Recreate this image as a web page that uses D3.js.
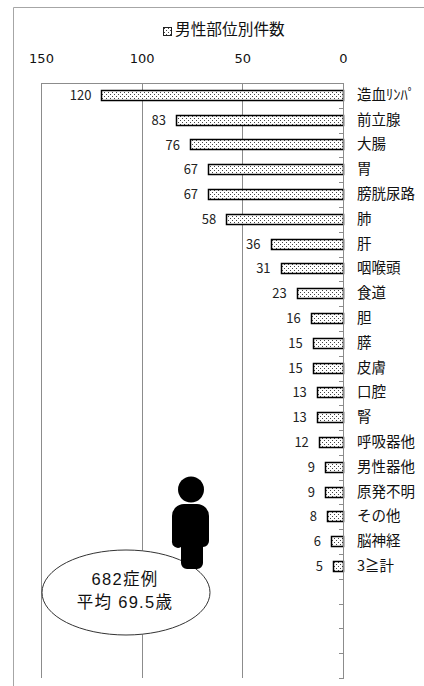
<!DOCTYPE html>
<html><head><meta charset="utf-8">
<script src="https://cdn.jsdelivr.net/npm/d3@7/dist/d3.min.js"></script>
<style>
html,body{margin:0;padding:0;background:#fff;overflow:hidden}
text{font-family:"Noto Sans CJK JP","Noto Sans",sans-serif}
</style></head><body><div id="c"></div>
<script>
const categories=["造血ﾘﾝﾊﾟ","前立腺","大腸","胃","膀胱尿路","肺","肝","咽喉頭","食道","胆","膵","皮膚","口腔","腎","呼吸器他","男性器他","原発不明","その他","脳神経","3≧計"];
const values=[120,83,76,67,67,58,36,31,23,16,15,15,13,13,12,9,9,8,6,5];
const blankSlots=["b1","b2","b3","b4"];
const xTicks=[150,100,50,0];
const titleText="男性部位別件数";
const noteLines=["682症例","平均 69.5歳"];

const svg=d3.select("#c").append("svg").attr("width",424).attr("height",686).style("display","block");
const defs=svg.append("defs");
const p=defs.append("pattern").attr("id","dots").attr("width",4).attr("height",4).attr("patternUnits","userSpaceOnUse");
p.append("rect").attr("width",4).attr("height",4).attr("fill","#fff");
p.append("rect").attr("x",0).attr("y",0).attr("width",1).attr("height",1).attr("fill","#444");
p.append("rect").attr("x",2).attr("y",2).attr("width",1).attr("height",1).attr("fill","#444");

// chart frame
svg.append("path").attr("d","M424.5 7.5H13.5V686").attr("fill","none").attr("stroke","#a6a6a6").attr("stroke-width",1);

const plotTop=83,plotBottom=678;
const x=d3.scaleLinear().domain([150,0]).range([41,343]);
const y=d3.scaleBand().domain(categories.concat(blankSlots)).range([plotTop,plotBottom]);

// gridlines
svg.append("g").selectAll("line").data(xTicks.slice(0,3)).join("line")
 .attr("x1",d=>Math.round(x(d))+.5).attr("x2",d=>Math.round(x(d))+.5).attr("y1",plotTop).attr("y2",plotBottom)
 .attr("stroke","#8c8c8c");
svg.append("line").attr("x1",41).attr("x2",344).attr("y1",plotTop+.5).attr("y2",plotTop+.5).attr("stroke","#8c8c8c");

// top axis labels
const ax=d3.axisTop(x).tickValues(xTicks).tickSize(0).tickPadding(0);
const gx=svg.append("g").attr("transform","translate(0,63)").call(ax);
gx.select(".domain").remove();
gx.selectAll("text").style("font-family","'DejaVu Sans'").attr("font-size",13).attr("fill","#111");

// bars
svg.append("g").selectAll("rect").data(values).join("rect")
 .attr("x",d=>Math.round(x(d))+.5)
 .attr("y",(d,i)=>Math.round(y(categories[i])+y.bandwidth()/2-5.5)+.5)
 .attr("width",d=>x(0)-Math.round(x(d)))
 .attr("height",10)
 .attr("fill","url(#dots)").attr("stroke","#000").attr("stroke-width",1.5);

// category axis, ticks on band edges
const edges=d3.range(1,25).map(i=>plotTop+i*y.step());
svg.append("line").attr("x1",343.5).attr("x2",343.5).attr("y1",plotTop).attr("y2",plotBottom).attr("stroke","#8c8c8c");
svg.append("g").selectAll("line").data(edges).join("line")
 .attr("x1",339).attr("x2",344).attr("y1",d=>Math.round(d)+.5).attr("y2",d=>Math.round(d)+.5).attr("stroke","#8c8c8c");

svg.append("g").selectAll("text").data(categories).join("text")
 .attr("x",357).attr("y",d=>y(d)+y.bandwidth()/2+.5)
 .attr("dominant-baseline","middle")
 .attr("font-size",14.5).attr("fill","#111").text(d=>d);

// value labels
svg.append("g").selectAll("text").data(values).join("text")
 .attr("x",d=>x(d)-10).attr("y",(d,i)=>y(categories[i])+y.bandwidth()/2+1)
 .attr("text-anchor","end").attr("dominant-baseline","middle")
 .attr("font-size",13).attr("fill","#222").text(d=>d);

// title with key
svg.append("rect").attr("x",163.5).attr("y",27.5).attr("width",8).attr("height",8)
 .attr("fill","url(#dots)").attr("stroke","#222");
svg.append("text").attr("x",175).attr("y",31).attr("dominant-baseline","middle")
 .attr("font-size",15.7).attr("fill","#111").text(titleText);

// callout
svg.append("ellipse").attr("cx",126).attr("cy",592.5).attr("rx",84).attr("ry",42.5)
 .attr("fill","#fff").attr("stroke","#333").attr("stroke-width",1);
svg.selectAll(".note").data(noteLines).join("text").attr("class","note")
 .attr("x",125).attr("y",(d,i)=>581+i*23).attr("text-anchor","middle").attr("dominant-baseline","middle")
 .style("font-family","'Liberation Sans','Noto Sans CJK JP'").style("letter-spacing","1.3px")
 .attr("font-size",16.5).attr("fill","#111").text(d=>d);

// person icon
const person=svg.append("g").attr("fill","#000");
person.append("circle").attr("cx",191).attr("cy",489.5).attr("r",13);
person.append("path").attr("d","M172 516a12 12 0 0 1 12-12h13a12 12 0 0 1 12 12v25a6 6 0 0 1-6 6v16a6 6 0 0 1-6 6h-10a6 6 0 0 1-6-6v-16a6 6 0 0 1-9-6z");
</script></body></html>
